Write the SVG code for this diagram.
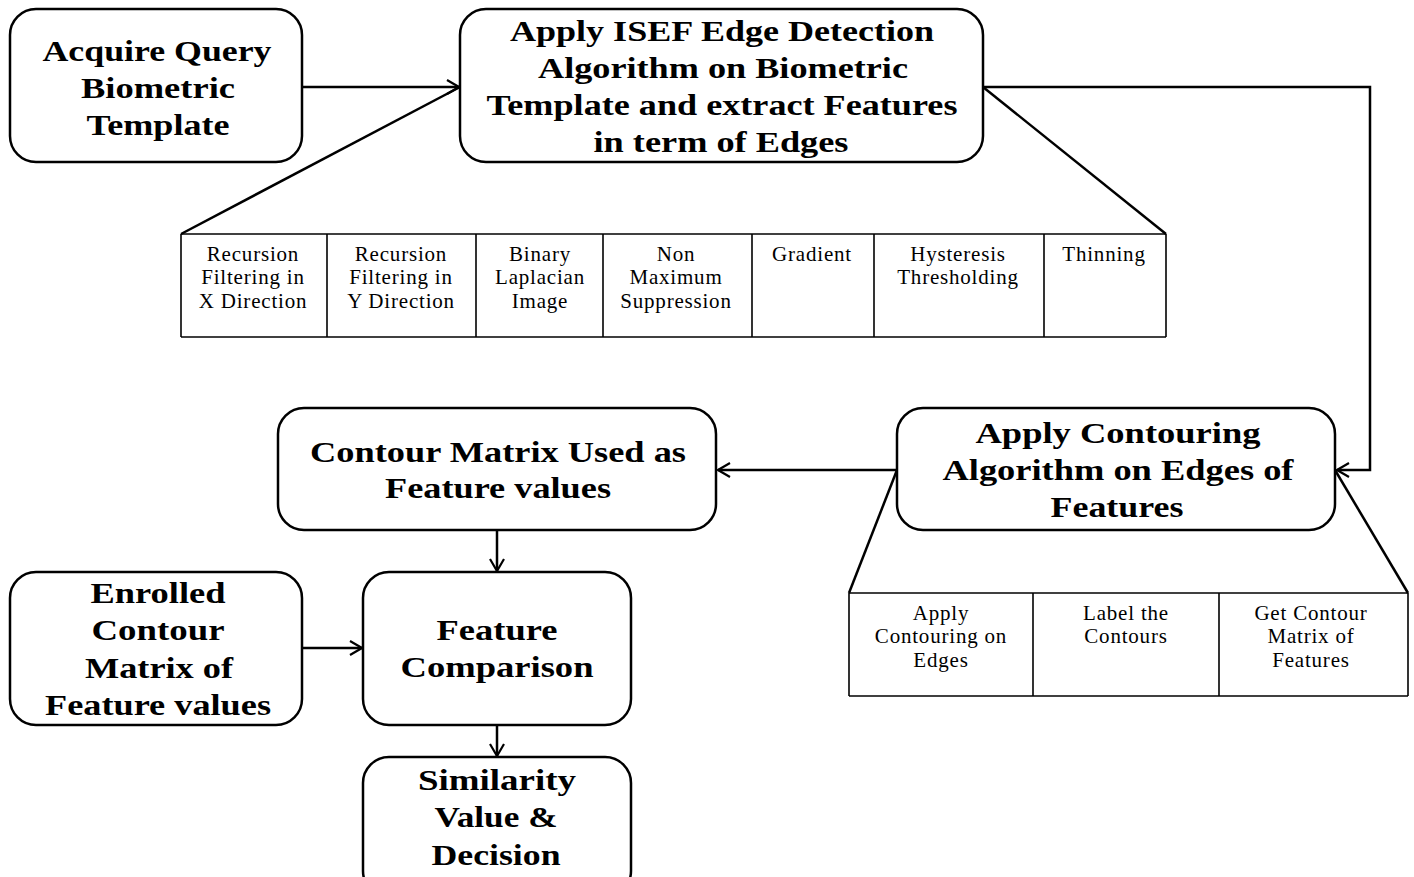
<svg xmlns="http://www.w3.org/2000/svg" width="1414" height="877" viewBox="0 0 1414 877">
<style>
.box{fill:#fff;stroke:#000;stroke-width:2.5}
.t{font-family:"Liberation Serif",serif;font-weight:bold;font-size:30px;text-anchor:middle;fill:#000}
.s{font-family:"Liberation Serif",serif;font-size:21px;text-anchor:middle;fill:#000;letter-spacing:0.8px}
.c{fill:none;stroke:#000;stroke-width:2.5}
.g{fill:none;stroke:#000;stroke-width:1.6}
</style>
<defs>
<marker id="ah" viewBox="0 0 14 16" refX="13" refY="8" markerWidth="14" markerHeight="16" markerUnits="userSpaceOnUse" orient="auto">
<path d="M1,1 L13,8 L1,15" fill="none" stroke="#000" stroke-width="2.2"/>
</marker>
</defs>
<rect width="1414" height="877" fill="#fff"/>
<g id="connectors">
<line class="c" x1="302" y1="87" x2="459" y2="87" marker-end="url(#ah)"/>
<polyline class="c" points="983,87 1370,87 1370,470 1337,470" marker-end="url(#ah)"/>
<line class="c" x1="897" y1="470" x2="718" y2="470" marker-end="url(#ah)"/>
<line class="c" x1="497" y1="530" x2="497" y2="571" marker-end="url(#ah)"/>
<line class="c" x1="302" y1="648" x2="362" y2="648" marker-end="url(#ah)"/>
<line class="c" x1="497" y1="725" x2="497" y2="756" marker-end="url(#ah)"/>
<line class="c" x1="460" y1="87" x2="181" y2="234"/>
<line class="c" x1="983" y1="87" x2="1166" y2="234"/>
<line class="c" x1="897" y1="470" x2="849" y2="593"/>
<line class="c" x1="1335" y1="470" x2="1408" y2="593"/>
</g>
<g id="acquire">
<rect class="box" x="10" y="9" width="292" height="153" rx="26"/>
<text class="t" x="157" y="61" textLength="229" lengthAdjust="spacingAndGlyphs">Acquire Query</text>
<text class="t" x="158" y="98" textLength="154" lengthAdjust="spacingAndGlyphs">Biometric</text>
<text class="t" x="158" y="135" textLength="143" lengthAdjust="spacingAndGlyphs">Template</text>
</g>
<g id="isef">
<rect class="box" x="460" y="9" width="523" height="153" rx="26"/>
<text class="t" x="722" y="41" textLength="424" lengthAdjust="spacingAndGlyphs">Apply ISEF Edge Detection</text>
<text class="t" x="723" y="78" textLength="370" lengthAdjust="spacingAndGlyphs">Algorithm on Biometric</text>
<text class="t" x="722" y="115" textLength="471" lengthAdjust="spacingAndGlyphs">Template and extract Features</text>
<text class="t" x="721" y="152" textLength="255" lengthAdjust="spacingAndGlyphs">in term of Edges</text>
</g>
<g id="isef-steps">
<line class="g" x1="181" y1="234" x2="1166" y2="234"/>
<line class="g" x1="181" y1="337" x2="1166" y2="337"/>
<line class="g" x1="181" y1="234" x2="181" y2="337"/>
<line class="g" x1="327" y1="234" x2="327" y2="337"/>
<line class="g" x1="476" y1="234" x2="476" y2="337"/>
<line class="g" x1="603" y1="234" x2="603" y2="337"/>
<line class="g" x1="752" y1="234" x2="752" y2="337"/>
<line class="g" x1="874" y1="234" x2="874" y2="337"/>
<line class="g" x1="1044" y1="234" x2="1044" y2="337"/>
<line class="g" x1="1166" y1="234" x2="1166" y2="337"/>
<text class="s" x="253" y="261">Recursion</text>
<text class="s" x="253" y="284">Filtering in</text>
<text class="s" x="253" y="308">X Direction</text>
<text class="s" x="401" y="261">Recursion</text>
<text class="s" x="401" y="284">Filtering in</text>
<text class="s" x="401" y="308">Y Direction</text>
<text class="s" x="540" y="261">Binary</text>
<text class="s" x="540" y="284">Laplacian</text>
<text class="s" x="540" y="308">Image</text>
<text class="s" x="676" y="261">Non</text>
<text class="s" x="676" y="284">Maximum</text>
<text class="s" x="676" y="308">Suppression</text>
<text class="s" x="812" y="261">Gradient</text>
<text class="s" x="958" y="261">Hysteresis</text>
<text class="s" x="958" y="284">Thresholding</text>
<text class="s" x="1104" y="261">Thinning</text>
</g>
<g id="contouring">
<rect class="box" x="897" y="408" width="438" height="122" rx="26"/>
<text class="t" x="1118" y="443" textLength="285" lengthAdjust="spacingAndGlyphs">Apply Contouring</text>
<text class="t" x="1118" y="480" textLength="351" lengthAdjust="spacingAndGlyphs">Algorithm on Edges of</text>
<text class="t" x="1117" y="517" textLength="133" lengthAdjust="spacingAndGlyphs">Features</text>
</g>
<g id="contouring-steps">
<line class="g" x1="849" y1="593" x2="1408" y2="593"/>
<line class="g" x1="849" y1="696" x2="1408" y2="696"/>
<line class="g" x1="849" y1="593" x2="849" y2="696"/>
<line class="g" x1="1033" y1="593" x2="1033" y2="696"/>
<line class="g" x1="1219" y1="593" x2="1219" y2="696"/>
<line class="g" x1="1408" y1="593" x2="1408" y2="696"/>
<text class="s" x="941" y="620">Apply</text>
<text class="s" x="941" y="643">Contouring on</text>
<text class="s" x="941" y="667">Edges</text>
<text class="s" x="1126" y="620">Label the</text>
<text class="s" x="1126" y="643">Contours</text>
<text class="s" x="1311" y="620">Get Contour</text>
<text class="s" x="1311" y="643">Matrix of</text>
<text class="s" x="1311" y="667">Features</text>
</g>
<g id="contour-matrix">
<rect class="box" x="278" y="408" width="438" height="122" rx="26"/>
<text class="t" x="498" y="462" textLength="376" lengthAdjust="spacingAndGlyphs">Contour Matrix Used as</text>
<text class="t" x="498" y="498" textLength="226" lengthAdjust="spacingAndGlyphs">Feature values</text>
</g>
<g id="enrolled">
<rect class="box" x="10" y="572" width="292" height="153" rx="26"/>
<text class="t" x="158" y="603" textLength="135" lengthAdjust="spacingAndGlyphs">Enrolled</text>
<text class="t" x="158" y="640" textLength="133" lengthAdjust="spacingAndGlyphs">Contour</text>
<text class="t" x="159" y="678" textLength="148" lengthAdjust="spacingAndGlyphs">Matrix of</text>
<text class="t" x="158" y="715" textLength="226" lengthAdjust="spacingAndGlyphs">Feature values</text>
</g>
<g id="comparison">
<rect class="box" x="363" y="572" width="268" height="153" rx="26"/>
<text class="t" x="497" y="640" textLength="121" lengthAdjust="spacingAndGlyphs">Feature</text>
<text class="t" x="497" y="677" textLength="193" lengthAdjust="spacingAndGlyphs">Comparison</text>
</g>
<g id="decision">
<rect class="box" x="363" y="757" width="268" height="140" rx="26"/>
<text class="t" x="497" y="790" textLength="158" lengthAdjust="spacingAndGlyphs">Similarity</text>
<text class="t" x="496" y="827" textLength="123" lengthAdjust="spacingAndGlyphs">Value &amp;</text>
<text class="t" x="496" y="865" textLength="129" lengthAdjust="spacingAndGlyphs">Decision</text>
</g>
</svg>
